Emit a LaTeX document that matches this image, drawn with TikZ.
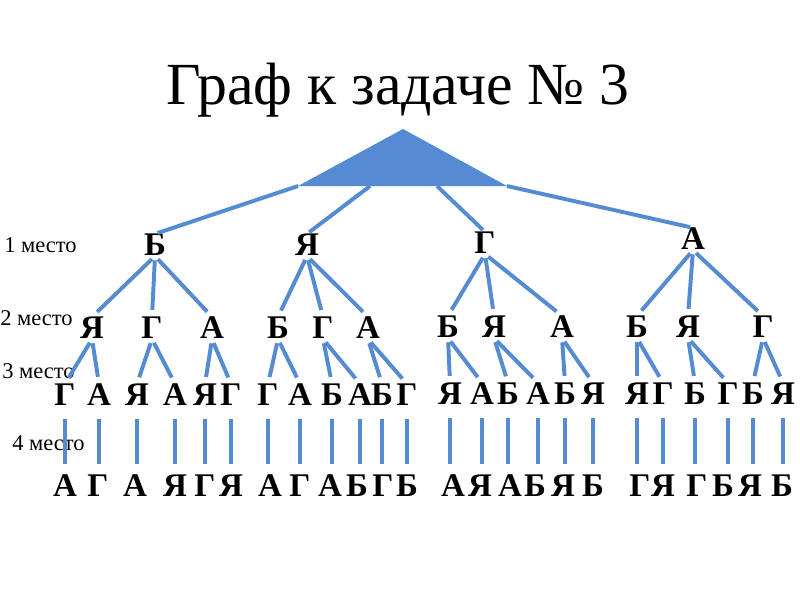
\documentclass[tikz,border=0pt]{standalone}
\usepackage{fontspec}
\setmainfont{Liberation Serif}
\usepackage{xcolor}
\usepackage{tikz}
\usetikzlibrary{calc}
\definecolor{treeblue}{RGB}{84,139,210}

\begin{document}
\begin{tikzpicture}[x=0.025cm,y=-0.025cm]
\tikzset{letter/.style={inner sep=0pt, text depth=0pt, font=\fontsize{23.5pt}{23.5pt}\selectfont\bfseries},
place/.style={inner sep=0pt, anchor=west, font=\fontsize{16pt}{16pt}\selectfont},
trunk/.style={draw=treeblue, line width=2.8pt, shorten >=2pt},
branch/.style={draw=treeblue, line width=2.8pt, shorten <=3pt, shorten >=5pt},
stem/.style={draw=treeblue, line width=2.8pt, shorten <=9pt, shorten >=8pt}}
\useasboundingbox (0,0) rectangle (800,600);

\node (title) at (398,104) [anchor=base, font=\fontsize{42.5pt}{42.5pt}\selectfont] {Граф к задаче № 3};

\coordinate (apex) at (403,129);
\coordinate (left) at (298,186);
\coordinate (right) at (507,186);
\fill[treeblue] (apex) -- (left) -- (right) -- cycle;

\node (m1) at (4,245) [place] {1 место};
\node (m2) at (0,318) [place] {2 место};
\node (m3) at (2,371) [place] {3 место};
\node (m4) at (12,443) [place] {4 место};

\node (s1) at (155,245) [letter] {Б};
\node (s2) at (307,245) [letter] {Я};
\node (s3) at (485,243) [letter] {Г};
\node (s4) at (693,239) [letter] {А};

\node (s11) at (92,328) [letter] {Я};
\node (s12) at (152,328) [letter] {Г};
\node (s13) at (212,328) [letter] {А};
\node (s21) at (278,328) [letter] {Б};
\node (s22) at (323,328) [letter] {Г};
\node (s23) at (368,328) [letter] {А};
\node (s31) at (448,327) [letter] {Б};
\node (s32) at (494,327) [letter] {Я};
\node (s33) at (562,327) [letter] {А};
\node (s41) at (637,327) [letter] {Б};
\node (s42) at (688,327) [letter] {Я};
\node (s43) at (763,327) [letter] {Г};

\node (s111) at (65,395) [letter] {Г};
\node (s112) at (99,395) [letter] {А};
\node (s121) at (137,395) [letter] {Я};
\node (s122) at (175,395) [letter] {А};
\node (s131) at (205,395) [letter] {Я};
\node (s132) at (231,395) [letter] {Г};
\node (s211) at (268,395) [letter] {Г};
\node (s212) at (300,395) [letter] {А};
\node (s221) at (332,395) [letter] {Б};
\node (s222) at (360,395) [letter] {А};
\node (s231) at (382,395) [letter] {Б};
\node (s232) at (407,395) [letter] {Г};
\node (s311) at (450,394) [letter] {Я};
\node (s312) at (482,394) [letter] {А};
\node (s321) at (508,394) [letter] {Б};
\node (s322) at (538,394) [letter] {А};
\node (s331) at (565,394) [letter] {Б};
\node (s332) at (593,394) [letter] {Я};
\node (s411) at (637,394) [letter] {Я};
\node (s412) at (663,394) [letter] {Г};
\node (s421) at (695,394) [letter] {Б};
\node (s422) at (728,394) [letter] {Г};
\node (s431) at (753,394) [letter] {Б};
\node (s432) at (783,394) [letter] {Я};

\node (s1111) at (65,486) [letter] {А};
\node (s1121) at (98,486) [letter] {Г};
\node (s1211) at (135,486) [letter] {А};
\node (s1221) at (175,486) [letter] {Я};
\node (s1311) at (205,486) [letter] {Г};
\node (s1321) at (231,486) [letter] {Я};
\node (s2111) at (270,486) [letter] {А};
\node (s2121) at (300,486) [letter] {Г};
\node (s2211) at (330,486) [letter] {А};
\node (s2221) at (357,486) [letter] {Б};
\node (s2311) at (383,486) [letter] {Г};
\node (s2321) at (407,486) [letter] {Б};
\node (s3111) at (453,486) [letter] {А};
\node (s3121) at (480,486) [letter] {Я};
\node (s3211) at (510,486) [letter] {А};
\node (s3221) at (535,486) [letter] {Б};
\node (s3311) at (563,486) [letter] {Я};
\node (s3321) at (593,486) [letter] {Б};
\node (s4111) at (640,486) [letter] {Г};
\node (s4121) at (663,486) [letter] {Я};
\node (s4211) at (697,486) [letter] {Г};
\node (s4221) at (723,486) [letter] {Б};
\node (s4311) at (750,486) [letter] {Я};
\node (s4321) at (782,486) [letter] {Б};

\draw[trunk] (left) -- (s1.north);
\draw[trunk] ($(left)!0.345!(right)$) -- (s2.north);
\draw[trunk] ($(left)!0.665!(right)$) -- (s3.north);
\draw[trunk] (right) -- (s4.north);

\draw[branch] (s1.south) -- (s11.north); \draw[branch] (s1.south) -- (s12.north); \draw[branch] (s1.south) -- (s13.north);
\draw[branch] (s2.south) -- (s21.north); \draw[branch] (s2.south) -- (s22.north); \draw[branch] (s2.south) -- (s23.north);
\draw[branch] (s3.south) -- (s31.north); \draw[branch] (s3.south) -- (s32.north); \draw[branch] (s3.south) -- (s33.north);
\draw[branch] (s4.south) -- (s41.north); \draw[branch] (s4.south) -- (s42.north); \draw[branch] (s4.south) -- (s43.north);

\draw[branch] (s11.south) -- (s111.north); \draw[branch] (s11.south) -- (s112.north);
\draw[branch] (s12.south) -- (s121.north); \draw[branch] (s12.south) -- (s122.north);
\draw[branch] (s13.south) -- (s131.north); \draw[branch] (s13.south) -- (s132.north);
\draw[branch] (s21.south) -- (s211.north); \draw[branch] (s21.south) -- (s212.north);
\draw[branch] (s22.south) -- (s221.north); \draw[branch] (s22.south) -- (s222.north);
\draw[branch] (s23.south) -- (s231.north); \draw[branch] (s23.south) -- (s232.north);
\draw[branch] (s31.south) -- (s311.north); \draw[branch] (s31.south) -- (s312.north);
\draw[branch] (s32.south) -- (s321.north); \draw[branch] (s32.south) -- (s322.north);
\draw[branch] (s33.south) -- (s331.north); \draw[branch] (s33.south) -- (s332.north);
\draw[branch] (s41.south) -- (s411.north); \draw[branch] (s41.south) -- (s412.north);
\draw[branch] (s42.south) -- (s421.north); \draw[branch] (s42.south) -- (s422.north);
\draw[branch] (s43.south) -- (s431.north); \draw[branch] (s43.south) -- (s432.north);

\draw[stem] (s111.south) -- (s111.south |- s1111.north); \draw[stem] (s112.south) -- (s112.south |- s1121.north);
\draw[stem] (s121.south) -- (s121.south |- s1211.north); \draw[stem] (s122.south) -- (s122.south |- s1221.north);
\draw[stem] (s131.south) -- (s131.south |- s1311.north); \draw[stem] (s132.south) -- (s132.south |- s1321.north);
\draw[stem] (s211.south) -- (s211.south |- s2111.north); \draw[stem] (s212.south) -- (s212.south |- s2121.north);
\draw[stem] (s221.south) -- (s221.south |- s2211.north); \draw[stem] (s222.south) -- (s222.south |- s2221.north);
\draw[stem] (s231.south) -- (s231.south |- s2311.north); \draw[stem] (s232.south) -- (s232.south |- s2321.north);
\draw[stem] (s311.south) -- (s311.south |- s3111.north); \draw[stem] (s312.south) -- (s312.south |- s3121.north);
\draw[stem] (s321.south) -- (s321.south |- s3211.north); \draw[stem] (s322.south) -- (s322.south |- s3221.north);
\draw[stem] (s331.south) -- (s331.south |- s3311.north); \draw[stem] (s332.south) -- (s332.south |- s3321.north);
\draw[stem] (s411.south) -- (s411.south |- s4111.north); \draw[stem] (s412.south) -- (s412.south |- s4121.north);
\draw[stem] (s421.south) -- (s421.south |- s4211.north); \draw[stem] (s422.south) -- (s422.south |- s4221.north);
\draw[stem] (s431.south) -- (s431.south |- s4311.north); \draw[stem] (s432.south) -- (s432.south |- s4321.north);
\end{tikzpicture}
\end{document}
